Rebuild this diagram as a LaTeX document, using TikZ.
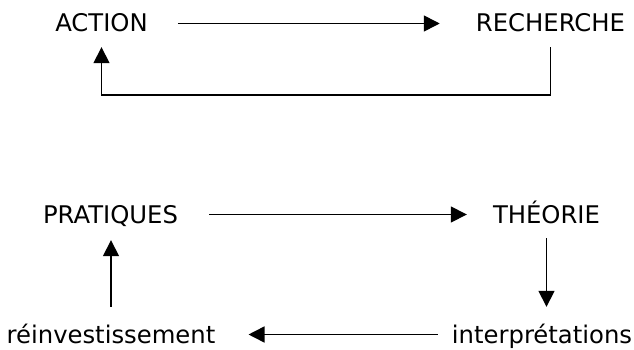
\documentclass[tikz,border=0pt]{standalone}
\usepackage{fontspec}
\setmainfont{DejaVu Sans}
\usetikzlibrary{arrows.meta}
\begin{document}
\begin{tikzpicture}[x=1pt,y=1pt,
  lbl/.style={inner sep=0pt, anchor=base, text height=17pt, text depth=0pt, font=\fontsize{24.3}{29}\selectfont},
  arr/.style={line width=1.6pt, -{Triangle[length=16pt,width=16pt]}}]
\useasboundingbox (0,0) rectangle (634,349);
\node[lbl] (action) at (101.5,317) {ACTION};
\node[lbl] (recherche) at (550.5,317) {RECHERCHE};
\node[lbl] (pratiques) at (110.5,126) {PRATIQUES};
\node[lbl] (theorie) at (546.5,126) {THÉORIE};
\node[lbl] (reinv) at (111,6) {réinvestissement};
\node[lbl] (interp) at (542,6) {interprétations};
\draw[arr, shorten <=30pt, shorten >=36pt] (action.east) -- (recherche.west);
\draw[arr, shorten <=15pt, shorten >=15pt] (recherche.south) -- ++(0,-63) -| (action.south);
\draw[arr, shorten <=31pt, shorten >=26pt] (pratiques.east) -- (theorie.west);
\draw[arr, shorten <=15pt, shorten >=19pt] (theorie.south) -- (theorie.south |- interp.north);
\draw[arr, shorten <=14pt, shorten >=33pt] (interp.west) -- (reinv.east);
\draw[arr, shorten <=19pt, shorten >=17pt] (reinv.north) -- (reinv.north |- pratiques.south);
\end{tikzpicture}
\end{document}
